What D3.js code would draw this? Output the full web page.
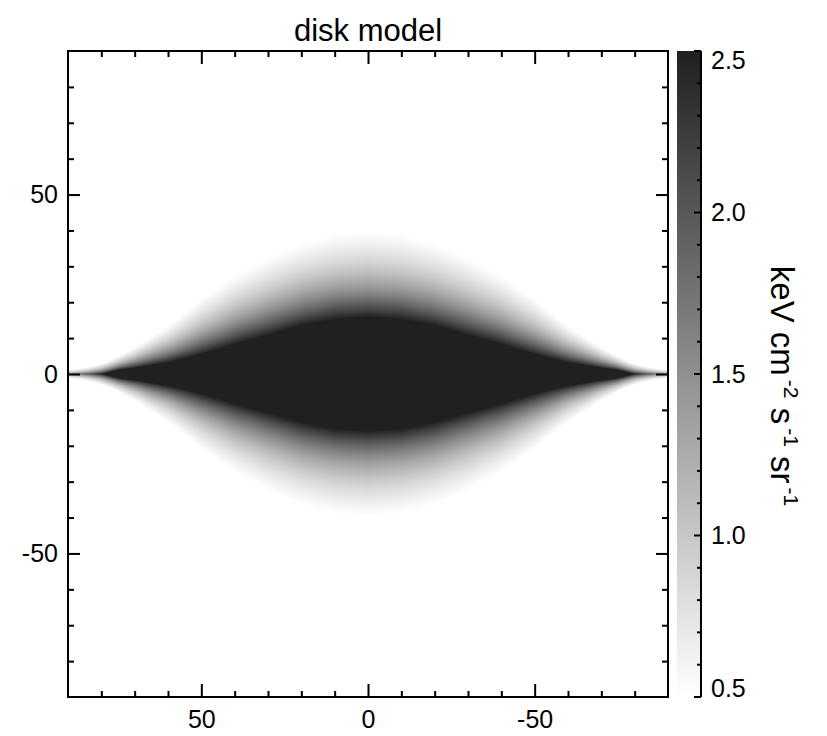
<!DOCTYPE html>
<html>
<head>
<meta charset="utf-8">
<script src="https://cdn.jsdelivr.net/npm/d3@7"></script>
<style>
  html, body { margin: 0; padding: 0; background: #fff; }
  svg { display: block; }
  text { font-family: "Liberation Sans", Arial, Helvetica, sans-serif; fill: #000; }
</style>
</head>
<body>
<svg id="chart" width="827" height="736"></svg>
<script>
// Disk model surface brightness, tabulated against |longitude| (deg):
// brightness at the mid-plane and the exponential scale height (deg).
const lonKnots    = [0,     10,    20,    30,    40,    50,   60,   70,   75,   80,   85,  90];
const peakValue   = [7.15,  7.06,  6.43,  5.57,  5.01,  4.43, 4.12, 4.01, 3.94, 2.5,  1.9, 1.5];
const scaleHeight = [15.04, 14.73, 14.29, 13.49, 11.93, 9.63, 6.40, 3.60, 2.42, 1.86, 1.3, 1.1];

// Axis ticks
const xMajorTicks = [50, 0, -50];
const yMajorTicks = [-50, 0, 50];
const cbMajorTicks = [0.5, 1.0, 1.5, 2.0, 2.5];
const cbTickLabels = ["0.5", "1.0", "1.5", "2.0", "2.5"];

const titleText = "disk model";
const unitParts = [["keV cm", false], ["-2", true], [" s", false], ["-1", true], [" sr", false], ["-1", true]];

const svg = d3.select("#chart");
const plot = { left: 68, right: 668, top: 51, bottom: 697 };

const x = d3.scaleLinear().domain([90, -90]).range([plot.left, plot.right]);
const y = d3.scaleLinear().domain([-90, 90]).range([plot.bottom, plot.top]);

const vmin = 0.5, vmax = 2.5;
const grey = d3.scaleLinear().domain([vmin, vmax]).range(["#ffffff", "#202020"]).clamp(true);

// Profile along longitude (log-linear for the peak)
const logPeak = d3.scaleLinear().domain(lonKnots).range(peakValue.map(Math.log)).clamp(true);
const hScale  = d3.scaleLinear().domain(lonKnots).range(scaleHeight).clamp(true);

function brightness(l, b) {
  const al = Math.abs(l);
  return Math.exp(logPeak(al)) * Math.exp(-Math.abs(b) / hScale(al));
}

// Render the map into a canvas, then place it into the SVG
const pw = plot.right - plot.left, ph = plot.bottom - plot.top;
const canvas = document.createElement("canvas");
canvas.width = pw; canvas.height = ph;
const ctx = canvas.getContext("2d");
const img = ctx.createImageData(pw, ph);
for (let j = 0; j < ph; j++) {
  const b = y.invert(plot.top + j + 0.5);
  for (let i = 0; i < pw; i++) {
    const l = x.invert(plot.left + i + 0.5);
    const c = d3.rgb(grey(brightness(l, b)));
    const k = (j * pw + i) * 4;
    img.data[k] = c.r; img.data[k + 1] = c.g; img.data[k + 2] = c.b; img.data[k + 3] = 255;
  }
}
ctx.putImageData(img, 0, 0);
svg.append("image")
  .attr("x", plot.left).attr("y", plot.top)
  .attr("width", pw).attr("height", ph)
  .attr("href", canvas.toDataURL());

// Axes: ticks point inwards on all four sides
const xMinor = d3.range(-80, 90, 10).filter(v => v % 50 !== 0);
const yMinor = d3.range(-80, 90, 10).filter(v => v % 50 !== 0);
const fmt = d => String(d);

function styleAxis(g) {
  g.select(".domain").remove();
  g.selectAll(".tick line").attr("stroke", "#000").attr("stroke-width", 2);
  g.selectAll(".tick text").attr("font-size", 25).attr("font-family", "Liberation Sans, Arial, sans-serif").attr("fill", "#000");
}

svg.append("g").attr("transform", `translate(0,${plot.bottom})`)
  .call(d3.axisBottom(x).tickValues(xMajorTicks).tickSize(-13).tickPadding(13).tickFormat(fmt)).call(styleAxis);
svg.append("g").attr("transform", `translate(0,${plot.bottom})`)
  .call(d3.axisBottom(x).tickValues(xMinor).tickSize(-6).tickFormat("")).call(styleAxis);
svg.append("g").attr("transform", `translate(0,${plot.top})`)
  .call(d3.axisTop(x).tickValues(xMajorTicks).tickSize(-13).tickFormat("")).call(styleAxis);
svg.append("g").attr("transform", `translate(0,${plot.top})`)
  .call(d3.axisTop(x).tickValues(xMinor).tickSize(-6).tickFormat("")).call(styleAxis);

svg.append("g").attr("transform", `translate(${plot.left},0)`)
  .call(d3.axisLeft(y).tickValues(yMajorTicks).tickSize(-12).tickPadding(10).tickFormat(fmt)).call(styleAxis);
svg.append("g").attr("transform", `translate(${plot.left},0)`)
  .call(d3.axisLeft(y).tickValues(yMinor).tickSize(-6).tickFormat("")).call(styleAxis);
svg.append("g").attr("transform", `translate(${plot.right},0)`)
  .call(d3.axisRight(y).tickValues(yMajorTicks).tickSize(-12).tickFormat("")).call(styleAxis);
svg.append("g").attr("transform", `translate(${plot.right},0)`)
  .call(d3.axisRight(y).tickValues(yMinor).tickSize(-6).tickFormat("")).call(styleAxis);

svg.append("rect")
  .attr("x", plot.left).attr("y", plot.top).attr("width", pw).attr("height", ph)
  .attr("fill", "none").attr("stroke", "#000").attr("stroke-width", 2);

// Title
svg.append("text")
  .attr("x", (plot.left + plot.right) / 2).attr("y", 41)
  .attr("text-anchor", "middle").attr("font-size", 31)
  .text(titleText);

// Colour bar
const cb = { left: 677, right: 700, top: plot.top, bottom: plot.bottom };
const cy = d3.scaleLinear().domain([vmin, vmax]).range([cb.bottom, cb.top]);
const defs = svg.append("defs");
const grad = defs.append("linearGradient").attr("id", "cbGrad")
  .attr("x1", 0).attr("y1", 1).attr("x2", 0).attr("y2", 0);
d3.range(0, 1.0001, 0.05).forEach(t => {
  grad.append("stop").attr("offset", t).attr("stop-color", grey(vmin + t * (vmax - vmin)));
});
svg.append("rect")
  .attr("x", cb.left).attr("y", cb.top).attr("width", cb.right - cb.left).attr("height", cb.bottom - cb.top)
  .attr("fill", "url(#cbGrad)");

const cbMinor = d3.range(0.6, 2.45, 0.1).filter(v => Math.abs(v * 2 - Math.round(v * 2)) > 1e-6);
const cbAxisX = cb.right + 1;
svg.append("line")
  .attr("x1", cbAxisX).attr("x2", cbAxisX).attr("y1", cb.top).attr("y2", cb.bottom)
  .attr("stroke", "#000").attr("stroke-width", 2);
svg.append("g").selectAll("line").data(cbMajorTicks).join("line")
  .attr("x1", cbAxisX - 7).attr("x2", cbAxisX).attr("y1", d => cy(d)).attr("y2", d => cy(d))
  .attr("stroke", "#000").attr("stroke-width", 2);
svg.append("g").selectAll("line").data(cbMinor).join("line")
  .attr("x1", cbAxisX - 4).attr("x2", cbAxisX).attr("y1", d => cy(d)).attr("y2", d => cy(d))
  .attr("stroke", "#000").attr("stroke-width", 2);
svg.append("g").selectAll("text").data(cbMajorTicks).join("text")
  .attr("x", cbAxisX + 10)
  .attr("y", d => Math.min(Math.max(cy(d), cb.top + 9), cb.bottom - 9))
  .attr("dy", "0.35em").attr("font-size", 25)
  .text((d, i) => cbTickLabels[i]);

// Colour bar units, rotated to read downwards
const unit = svg.append("text")
  .attr("transform", `translate(771,386) rotate(90)`)
  .attr("text-anchor", "middle").attr("font-size", 33);
unitParts.forEach(([s, sup]) => {
  const t = unit.append("tspan").text(s);
  if (sup) t.attr("font-size", 21).attr("baseline-shift", "60%").attr("dx", 4);
});
</script>
</body>
</html>
